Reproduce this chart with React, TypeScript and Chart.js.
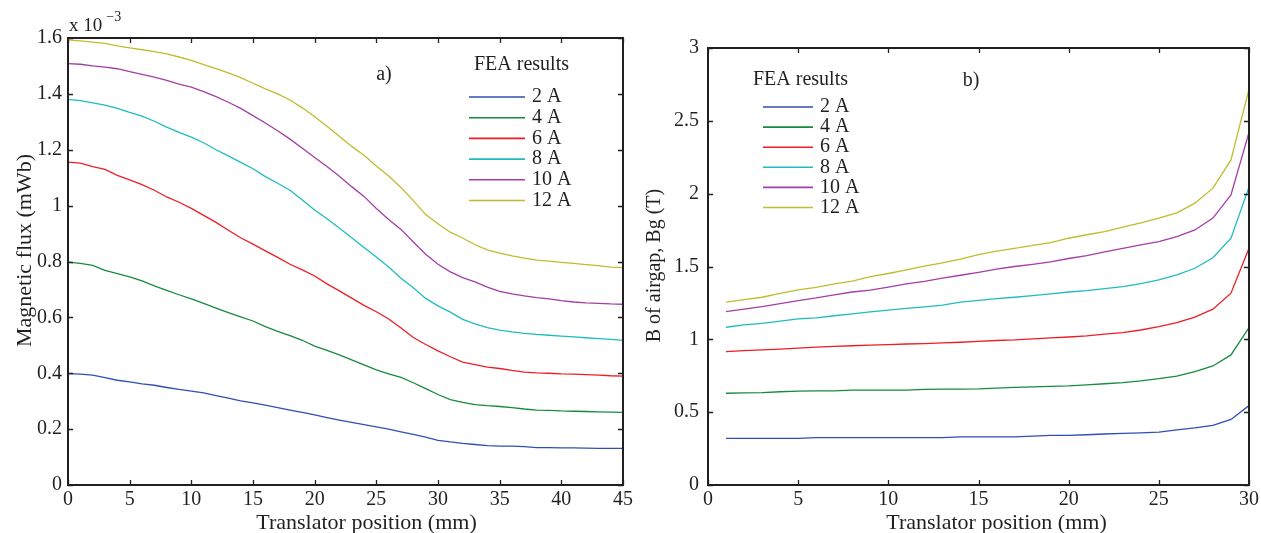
import React, { useEffect, useRef } from "react";
import { Chart, registerables } from "chart.js";

Chart.register(...registerables);

// ---------- Data ----------
const seriesLabels = ["2 A", "4 A", "6 A", "8 A", "10 A", "12 A"];
const seriesColors = ["#2f4fb5", "#178a3e", "#ee1d25", "#1fbcbf", "#a33ea6", "#bdbd2e"];

// Panel a) magnetic flux (x 10^-3 mWb) vs translator position (mm)
const fluxPosition = [
  0, 1, 2, 3, 4, 5, 6, 7, 8, 9, 10, 11, 12, 13, 14, 15, 16, 17, 18, 19, 20, 21, 22,
  23, 24, 25, 26, 27, 28, 29, 30, 31, 32, 33, 34, 35, 36, 37, 38, 39, 40, 41, 42, 43, 44, 45,
];
const flux2A = [
  0.399, 0.397, 0.393, 0.384, 0.375, 0.369, 0.362, 0.357, 0.349, 0.342, 0.336, 0.33, 0.32,
  0.311, 0.301, 0.294, 0.286, 0.277, 0.268, 0.26, 0.251, 0.241, 0.232, 0.224, 0.216, 0.208,
  0.2, 0.19, 0.181, 0.171, 0.16, 0.154, 0.149, 0.145, 0.141, 0.139, 0.139, 0.137, 0.134,
  0.134, 0.133, 0.133, 0.132, 0.131, 0.131, 0.131,
];
const flux4A = [
  0.798, 0.793, 0.786, 0.768, 0.757, 0.745, 0.731, 0.713, 0.697, 0.681, 0.666, 0.65, 0.633,
  0.617, 0.602, 0.587, 0.567, 0.55, 0.535, 0.518, 0.497, 0.482, 0.466, 0.448, 0.43, 0.412,
  0.398, 0.385, 0.366, 0.345, 0.324, 0.306, 0.296, 0.288, 0.284, 0.281, 0.277, 0.272, 0.268,
  0.267, 0.265, 0.264, 0.263, 0.262, 0.261, 0.26,
];
const flux6A = [
  1.156, 1.152, 1.14, 1.13, 1.108, 1.092, 1.075, 1.055, 1.031, 1.012, 0.99, 0.965, 0.94,
  0.912, 0.885, 0.862, 0.838, 0.815, 0.79, 0.77, 0.748, 0.72, 0.695, 0.669, 0.643, 0.62,
  0.594, 0.562, 0.528, 0.503, 0.48, 0.459, 0.44, 0.431, 0.422, 0.417, 0.41, 0.404, 0.401,
  0.4, 0.398, 0.397, 0.395, 0.393, 0.391, 0.39,
];
const flux8A = [
  1.38, 1.376, 1.368, 1.36, 1.348, 1.334, 1.32, 1.302, 1.281, 1.262, 1.245, 1.225, 1.2,
  1.178, 1.155, 1.132, 1.104, 1.08, 1.055, 1.02, 0.984, 0.953, 0.92, 0.885, 0.85, 0.816,
  0.78, 0.74, 0.706, 0.668, 0.641, 0.619, 0.593, 0.577, 0.563, 0.554, 0.548, 0.543, 0.539,
  0.536, 0.533, 0.53, 0.527, 0.524, 0.521, 0.518,
];
const flux10A = [
  1.508, 1.506, 1.5, 1.496, 1.49, 1.48, 1.47, 1.46, 1.448, 1.435, 1.424, 1.408, 1.39, 1.37,
  1.348, 1.322, 1.296, 1.268, 1.238, 1.205, 1.172, 1.14, 1.105, 1.068, 1.033, 0.99, 0.95,
  0.915, 0.87, 0.826, 0.79, 0.763, 0.742, 0.727, 0.708, 0.693, 0.684, 0.677, 0.671, 0.666,
  0.66, 0.655, 0.652, 0.65, 0.648, 0.647,
];
const flux12A = [
  1.593, 1.59, 1.585, 1.581, 1.572, 1.565, 1.558, 1.551, 1.543, 1.532, 1.52, 1.505, 1.49,
  1.475, 1.458, 1.438, 1.418, 1.4, 1.378, 1.35, 1.318, 1.284, 1.248, 1.212, 1.18, 1.142,
  1.106, 1.065, 1.018, 0.968, 0.935, 0.905, 0.884, 0.86, 0.842, 0.83, 0.82, 0.812, 0.805,
  0.801, 0.797, 0.793, 0.789, 0.785, 0.78, 0.778,
];

// Panel b) airgap flux density Bg (T) vs translator position (mm)
const bPosition = [
  1, 2, 3, 4, 5, 6, 7, 8, 9, 10, 11, 12, 13, 14, 15, 16, 17, 18, 19, 20, 21, 22, 23, 24, 25,
  26, 27, 28, 29, 30,
];
const b2A = [
  0.32, 0.32, 0.32, 0.32, 0.32, 0.325, 0.325, 0.325, 0.325, 0.325, 0.325, 0.325, 0.325, 0.33,
  0.33, 0.33, 0.33, 0.335, 0.34, 0.34, 0.345, 0.35, 0.355, 0.358, 0.363, 0.378, 0.392, 0.41,
  0.45, 0.545,
];
const b4A = [
  0.63, 0.632, 0.634, 0.64, 0.645, 0.646, 0.646, 0.652, 0.652, 0.652, 0.652, 0.657, 0.658,
  0.658, 0.66, 0.665, 0.67, 0.673, 0.677, 0.68, 0.688, 0.695, 0.703, 0.715, 0.73, 0.748,
  0.778, 0.817, 0.893, 1.08,
];
const b6A = [
  0.916, 0.922, 0.927, 0.933, 0.939, 0.946, 0.951, 0.956, 0.96, 0.964, 0.968, 0.971, 0.975,
  0.98, 0.986, 0.992, 0.996, 1.003, 1.01, 1.016, 1.024, 1.036, 1.046, 1.064, 1.087, 1.115,
  1.152, 1.207, 1.317, 1.626,
];
const b8A = [
  1.083, 1.099, 1.11, 1.125, 1.14, 1.148, 1.162, 1.175, 1.188, 1.2, 1.213, 1.223, 1.235,
  1.255, 1.268, 1.28, 1.289, 1.3, 1.312, 1.325, 1.334, 1.348, 1.362, 1.382, 1.408, 1.442,
  1.488, 1.56, 1.694, 2.045,
];
const b10A = [
  1.19, 1.208, 1.225, 1.245, 1.266, 1.284, 1.305, 1.325, 1.338, 1.358, 1.38, 1.398, 1.42,
  1.44, 1.46, 1.482, 1.5, 1.515, 1.532, 1.555, 1.575, 1.6, 1.624, 1.648, 1.671, 1.705, 1.751,
  1.832, 1.992, 2.42,
];
const b12A = [
  1.255, 1.272, 1.289, 1.315, 1.339, 1.357, 1.38, 1.4, 1.43, 1.452, 1.477, 1.502, 1.525,
  1.55, 1.582, 1.605, 1.625, 1.645, 1.664, 1.694, 1.718, 1.74, 1.77, 1.8, 1.832, 1.868,
  1.935, 2.038, 2.232, 2.718,
];

const fluxSeries = [flux2A, flux4A, flux6A, flux8A, flux10A, flux12A];
const bSeries = [b2A, b4A, b6A, b8A, b10A, b12A];

// Axis settings
const fluxXTicks = { min: 0, max: 45, step: 5 };
const fluxYTicks = { min: 0, max: 1.6, step: 0.2 };
const bXTicks = { min: 0, max: 30, step: 5 };
const bYTicks = { min: 0, max: 3, step: 0.5 };

const FONT = "'Liberation Serif', 'Times New Roman', serif";
const TEXT_COLOR = "#231f20";

// ---------- Plugin: frame, inward ticks, titles, legend, annotations ----------
const framePlugin = {
  id: "matlabFrame",
  afterDraw(chart: any, _args: any, opts: any) {
    const { ctx, chartArea, scales } = chart;
    const { left, right, top, bottom } = chartArea;
    const xs = scales.x;
    const ys = scales.y;
    ctx.save();
    ctx.strokeStyle = TEXT_COLOR;
    ctx.lineWidth = 1.3;
    const L = 5;
    ctx.beginPath();
    xs.ticks.forEach((t: any) => {
      const px = Math.round(xs.getPixelForValue(t.value)) + 0.5;
      ctx.moveTo(px, bottom);
      ctx.lineTo(px, bottom - L);
      ctx.moveTo(px, top);
      ctx.lineTo(px, top + L);
    });
    ys.ticks.forEach((t: any) => {
      const py = Math.round(ys.getPixelForValue(t.value)) + 0.5;
      ctx.moveTo(left, py);
      ctx.lineTo(left + L, py);
      ctx.moveTo(right, py);
      ctx.lineTo(right - L, py);
    });
    ctx.stroke();
    ctx.lineWidth = 2;
    ctx.strokeRect(left, top, right - left, bottom - top);

    // x axis title
    ctx.fillStyle = TEXT_COLOR;
    ctx.font = `22px ${FONT}`;
    ctx.textAlign = "center";
    ctx.textBaseline = "middle";
    ctx.fillText(opts.xTitle, (left + right) / 2 + opts.xTitleShift, opts.xTitleY);

    // y axis title (rotated)
    ctx.save();
    ctx.translate(opts.yTitleX, (top + bottom) / 2 + opts.yTitleShift);
    ctx.rotate(-Math.PI / 2);
    ctx.font = `${opts.yTitleSize}px ${FONT}`;
    ctx.fillText(opts.yTitle, 0, 0);
    ctx.restore();

    // panel tag
    ctx.font = `20px ${FONT}`;
    ctx.fillText(opts.tag, left + opts.tagDX, top + opts.tagDY);

    // multiplier
    if (opts.multiplier) {
      ctx.textAlign = "left";
      ctx.textBaseline = "alphabetic";
      ctx.font = `19px ${FONT}`;
      ctx.fillText("x 10", left + 1, top - 7);
      const w = ctx.measureText("x 10").width;
      ctx.font = `14px ${FONT}`;
      ctx.fillText("\u22123", left + 1 + w + 4, top - 17);
    }

    // legend
    const lx = left + opts.legendDX;
    const ly = top + opts.legendDY;
    ctx.textAlign = "left";
    ctx.textBaseline = "middle";
    ctx.font = `20px ${FONT}`;
    ctx.fillStyle = TEXT_COLOR;
    ctx.fillText("FEA results", lx + opts.legendTitleDX, ly);
    chart.data.datasets.forEach((ds: any, i: number) => {
      const yy = ly + opts.legendFirst + i * opts.legendGap;
      ctx.strokeStyle = ds.borderColor;
      ctx.lineWidth = 1.6;
      ctx.beginPath();
      ctx.moveTo(lx, yy);
      ctx.lineTo(lx + opts.legendLine, yy);
      ctx.stroke();
      ctx.fillStyle = TEXT_COLOR;
      ctx.fillText(ds.label, lx + opts.legendLine + 7, yy);
    });
    ctx.restore();
  },
};

function fmt(v: number) {
  return String(Number(Number(v).toFixed(2)));
}

function buildConfig(
  xs: number[],
  series: number[][],
  xt: any,
  yt: any,
  yLabelPad: number,
  pad: any,
  plug: any
) {
  return {
    type: "line",
    data: {
      datasets: series.map((vals, i) => ({
        label: seriesLabels[i],
        data: vals.map((v, j) => ({ x: xs[j], y: v })),
        borderColor: seriesColors[i],
        backgroundColor: seriesColors[i],
        borderWidth: 1.3,
        pointRadius: 0,
        tension: 0,
        fill: false,
      })),
    },
    options: {
      responsive: false,
      animation: false,
      devicePixelRatio: 1,
      layout: { padding: pad },
      plugins: {
        legend: { display: false },
        tooltip: { enabled: false },
        matlabFrame: plug,
      },
      scales: {
        x: {
          type: "linear",
          min: xt.min,
          max: xt.max,
          grid: { display: false },
          border: { display: false },
          ticks: {
            stepSize: xt.step,
            padding: -5,
            color: TEXT_COLOR,
            font: { family: FONT, size: 20 },
            maxRotation: 0,
            callback: (v: any) => fmt(v),
          },
          afterFit: (s: any) => {
            s.height = 48;
          },
        },
        y: {
          type: "linear",
          min: yt.min,
          max: yt.max,
          grid: { display: false },
          border: { display: false },
          ticks: {
            stepSize: yt.step,
            padding: yLabelPad,
            color: TEXT_COLOR,
            font: { family: FONT, size: 20 },
            callback: (v: any) => fmt(v),
          },
          afterFit: (s: any) => {
            s.width = 68;
          },
        },
      },
    },
    plugins: [framePlugin],
  };
}

function ChartPanel(props: { config: any; width: number; height: number; left: number }) {
  const ref = useRef<HTMLCanvasElement | null>(null);
  useEffect(() => {
    if (!ref.current) return;
    const chart = new Chart(ref.current, props.config);
    return () => chart.destroy();
  }, []);
  return (
    <div
      style={{
        position: "fixed",
        left: props.left,
        top: 0,
        width: props.width,
        height: props.height,
      }}
    >
      <canvas ref={ref} width={props.width} height={props.height} style={{ display: "block" }} />
    </div>
  );
}

export default function App() {
  const cfgA = buildConfig(
    fluxPosition,
    fluxSeries,
    fluxXTicks,
    fluxYTicks,
    -2,
    { left: 0, top: 38, right: 17, bottom: 0 },
    {
      xTitle: "Translator position (mm)",
      xTitleShift: 21,
      xTitleY: 523,
      yTitle: "Magnetic flux (mWb)",
      yTitleX: 25,
      yTitleShift: -11,
      yTitleSize: 22,
      tag: "a)",
      tagDX: 316,
      tagDY: 37,
      multiplier: true,
      legendDX: 401,
      legendDY: 27,
      legendTitleDX: 5,
      legendFirst: 32,
      legendGap: 20.7,
      legendLine: 56,
    }
  );
  const cfgB = buildConfig(
    bPosition,
    bSeries,
    bXTicks,
    bYTicks,
    1,
    { left: 0, top: 48, right: 12, bottom: 0 },
    {
      xTitle: "Translator position (mm)",
      xTitleShift: 18,
      xTitleY: 523,
      yTitle: "B of airgap, Bg (T)",
      yTitleX: 15,
      yTitleShift: -1,
      yTitleSize: 20,
      tag: "b)",
      tagDX: 263,
      tagDY: 33,
      multiplier: false,
      legendDX: 55,
      legendDY: 32,
      legendTitleDX: -10,
      legendFirst: 27,
      legendGap: 20.1,
      legendLine: 50,
    }
  );
  return (
    <div>
      <ChartPanel config={cfgA} width={640} height={533} left={0} />
      <ChartPanel config={cfgB} width={621} height={533} left={640} />
    </div>
  );
}
